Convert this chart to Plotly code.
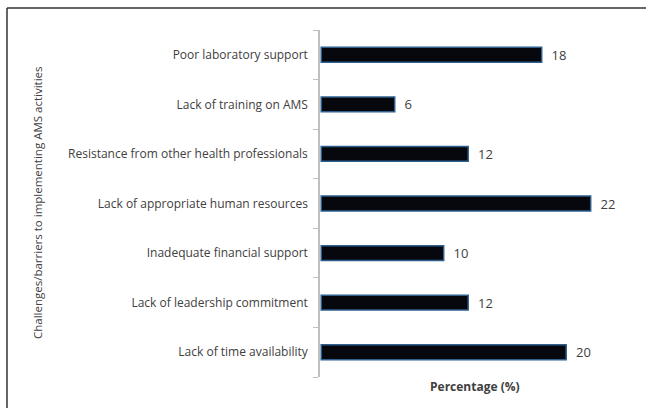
import plotly.graph_objects as go

categories = [
    "Lack of time availability",
    "Lack of leadership commitment",
    "Inadequate financial support",
    "Lack of appropriate human resources",
    "Resistance from other health professionals",
    "Lack of training on AMS",
    "Poor laboratory support",
]
values = [20, 12, 10, 22, 12, 6, 18]

W, H = 647, 408
ml, mr, mt, mb = 320, 22, 30, 31
pw = W - ml - mr
ph = H - mt - mb

def px_x(p):
    return (p - ml) / pw

def px_y(p):
    return (H - mb - p) / ph

fig = go.Figure(go.Bar(
    x=values, y=categories, orientation="h",
    marker=dict(color="#06080e", line=dict(color="#2f5f8f", width=1.5)),
    width=0.3,
    text=["\u00a0\u00a0" + str(v) for v in values], textposition="outside",
    constraintext="none",
    textfont=dict(size=13, color="#404040", family="Open Sans"),
    cliponaxis=False,
))

fig.update_layout(
    width=W, height=H,
    margin=dict(l=ml, r=mr, t=mt, b=mb),
    paper_bgcolor="white", plot_bgcolor="white",
    showlegend=False,
    font=dict(family="Open Sans", color="#404040", size=12),
    xaxis=dict(range=[-0.1, 24.8], visible=False, fixedrange=True),
    yaxis=dict(
        showline=True, linecolor="#bfbfbf", linewidth=1.5,
        ticks="outside", tickson="boundaries", ticklen=5, tickcolor="#bfbfbf",
        tickfont=dict(size=12, color="#404040"),
        ticklabelstandoff=8,
        showgrid=False, zeroline=False, fixedrange=True,
    ),
    shapes=[
        dict(type="line", xref="paper", yref="paper",
             x0=px_x(7), x1=px_x(646), y0=px_y(8), y1=px_y(8),
             line=dict(color="#333333", width=1.5)),
        dict(type="line", xref="paper", yref="paper",
             x0=px_x(7), x1=px_x(7), y0=px_y(8), y1=px_y(408),
             line=dict(color="#333333", width=1.5)),
    ],
    annotations=[
        dict(text="Challenges/barriers to implementing AMS activities",
             xref="paper", yref="paper", x=px_x(37), y=px_y(203),
             xanchor="center", yanchor="middle",
             textangle=-90, showarrow=False,
             font=dict(size=11.5, color="#404040")),
        dict(text="<b>Percentage (%)</b>",
             xref="paper", yref="paper", x=px_x(475), y=px_y(386),
             xanchor="center", yanchor="middle",
             showarrow=False, font=dict(size=12, color="#404040")),
    ],
)

fig.write_html(
    "out.html", config={"displayModeBar": False},
    post_script="document.body.style.margin='0';document.body.style.overflow='hidden';document.documentElement.style.overflow='hidden';",
)
